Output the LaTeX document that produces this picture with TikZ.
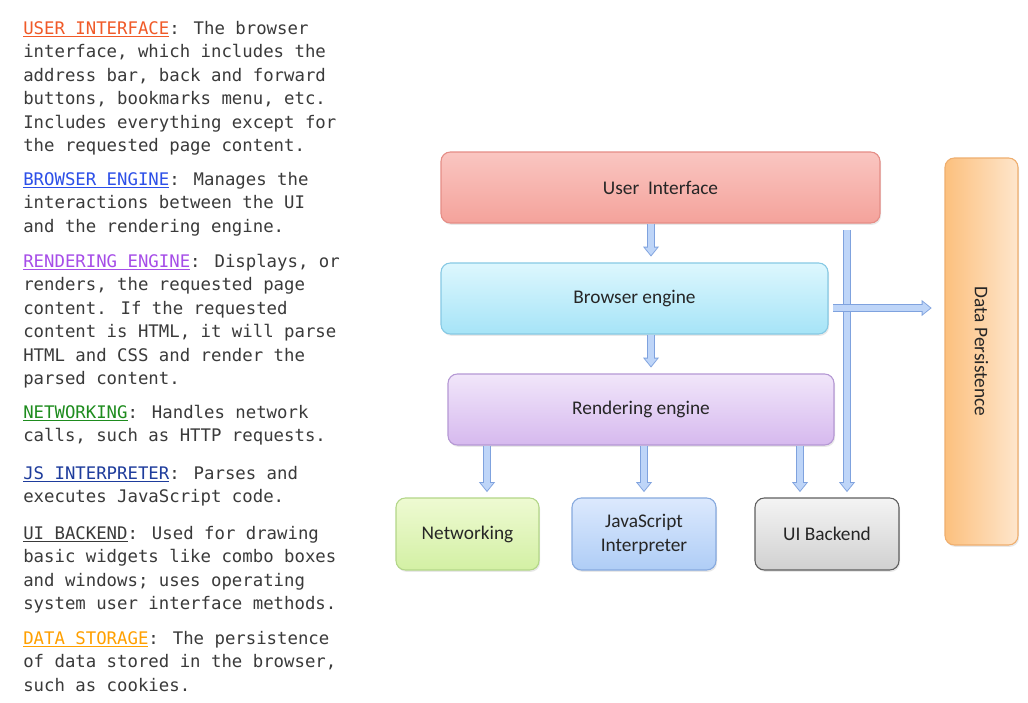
\documentclass[tikz,border=0pt]{standalone}
\usepackage{fontspec}
\usepackage{graphicx}
\newfontfamily\monofont{DejaVu Sans Mono}
\newfontfamily\boxfont{Carlito}
\usetikzlibrary{arrows.meta,shadows}
\definecolor{textgray}{HTML}{3A3A3A}
\definecolor{boxtext}{HTML}{262626}
\definecolor{uiC}{HTML}{F05A28}
\definecolor{beC}{HTML}{2C4FE8}
\definecolor{reC}{HTML}{A64DE8}
\definecolor{netC}{HTML}{1E8C1E}
\definecolor{jsC}{HTML}{1E3C9C}
\definecolor{dsC}{HTML}{FFA000}
\definecolor{uiT}{HTML}{FAC6C1}\definecolor{uiB}{HTML}{F4A29B}\definecolor{uiD}{HTML}{E58D86}
\definecolor{beT}{HTML}{DDF7FE}\definecolor{beB}{HTML}{A6E4F7}\definecolor{beD}{HTML}{86C9E4}
\definecolor{reT}{HTML}{F1E6FA}\definecolor{reB}{HTML}{D6B9EE}\definecolor{reD}{HTML}{B598D4}
\definecolor{nwT}{HTML}{EEFAD2}\definecolor{nwB}{HTML}{D3F0A4}\definecolor{nwD}{HTML}{B3D688}
\definecolor{jsT}{HTML}{DCE9FD}\definecolor{jsB}{HTML}{AFCDF6}\definecolor{jsD}{HTML}{86A9DE}
\definecolor{ubT}{HTML}{F4F4F4}\definecolor{ubB}{HTML}{D0D0D0}\definecolor{ubD}{HTML}{5E5E5E}
\definecolor{dpT}{HTML}{FCC07E}\definecolor{dpB}{HTML}{FEE6CC}\definecolor{dpD}{HTML}{EFAE6E}
\definecolor{arrowfill}{HTML}{BED5F8}
\definecolor{arrowborder}{HTML}{7FA2DE}
\newcommand{\hd}[2]{\textcolor{#1}{\underline{#2}}}
\begin{document}
\begin{tikzpicture}[x=0.75pt,y=-0.75pt,
  para/.style={anchor=base west, inner sep=0pt, text=textgray,
    font=\monofont\fontsize{13}{17.55}\selectfont},
  blk/.style={draw=#1D, top color=#1T, bottom color=#1B, rounded corners=7pt,
    line width=0.8pt, minimum height=54pt, inner sep=2pt, align=center,
    text=boxtext, font=\boxfont\fontsize{14.5}{18}\selectfont,
    drop shadow={opacity=0.18, shadow xshift=0.8pt, shadow yshift=-1.4pt}},
  barrow/.style={preaction={draw=arrowborder, line width=6pt,
      -{Triangle[length=7.5pt,width=11.5pt]}, shorten >=0pt},
    draw=arrowfill, line width=4.2pt, -{Triangle[length=5.6pt,width=8.6pt]},
    shorten >=1.1pt}
]
\useasboundingbox (0,0) rectangle (1028,703);
\fill[white] (0,0) rectangle (1028,703);

% left-hand description
\node[para] (p1) at (23,34.5) {\begin{minipage}[t]{260pt}\raggedright
\hd{uiC}{USER INTERFACE}: The browser\\
interface, which includes the\\
address bar, back and forward\\
buttons, bookmarks menu, etc.\\
Includes everything except for\\
the requested page content.\end{minipage}};
\node[para] (p2) at (23,185.5) {\begin{minipage}[t]{260pt}\raggedright
\hd{beC}{BROWSER ENGINE}: Manages the\\
interactions between the UI\\
and the rendering engine.\end{minipage}};
\node[para] (p3) at (23,267.5) {\begin{minipage}[t]{260pt}\raggedright
\hd{reC}{RENDERING ENGINE}: Displays, or\\
renders, the requested page\\
content. If the requested\\
content is HTML, it will parse\\
HTML and CSS and render the\\
parsed content.\end{minipage}};
\node[para] (p4) at (23,418.5) {\begin{minipage}[t]{260pt}\raggedright
\hd{netC}{NETWORKING}: Handles network\\
calls, such as HTTP requests.\end{minipage}};
\node[para] (p5) at (23,479) {\begin{minipage}[t]{260pt}\raggedright
\hd{jsC}{JS INTERPRETER}: Parses and\\
executes JavaScript code.\end{minipage}};
\node[para] (p6) at (23,539.5) {\begin{minipage}[t]{260pt}\raggedright
\hd{textgray}{UI BACKEND}: Used for drawing\\
basic widgets like combo boxes\\
and windows; uses operating\\
system user interface methods.\end{minipage}};
\node[para] (p7) at (23,644.5) {\begin{minipage}[t]{260pt}\raggedright
\hd{dsC}{DATA STORAGE}: The persistence\\
of data stored in the browser,\\
such as cookies.\end{minipage}};

% boxes
\node[blk=ui, minimum width=329.25pt, minimum height=53.25pt] (UI) at (660.5,187.5) {User\ \ Interface};
\node[blk=be, minimum width=290.25pt, minimum height=53.25pt] (BE) at (634.5,298.5) {Browser engine};
\node[blk=re, minimum width=289.5pt, minimum height=53.25pt] (RE) at (641,409.5) {Rendering engine};
\node[blk=nw, minimum width=107.25pt] (NW) at (467.5,534) {Networking};
\node[blk=js, minimum width=108pt] (JS) at (644,534) {JavaScript\\Interpreter};
\node[blk=ub, minimum width=108pt] (UB) at (827,534) {UI Backend};
\node[blk=dp, left color=dpT, right color=dpB, minimum width=54.75pt, minimum height=290.25pt]
  (DP) at (981.5,351.5) {\rotatebox{-90}{Data Persistence}};

% x positions of connectors
\coordinate (xa) at (651,0);
\coordinate (xn) at (487,0);
\coordinate (xj) at (644,0);
\coordinate (xu) at (800,0);
\coordinate (xl) at (847,0);
\coordinate (yh) at (0,308);

% connectors
\draw[barrow] ([yshift=-0.4pt]UI.south -| xa) -- ([yshift=4.4pt]BE.north -| xa);
\draw[barrow] ([yshift=-0.4pt]BE.south -| xa) -- ([yshift=4.4pt]RE.north -| xa);
\draw[barrow] ([yshift=-0.4pt]RE.south -| xn) -- ([yshift=4pt]NW.north -| xn);
\draw[barrow] ([yshift=-0.4pt]RE.south -| xj) -- ([yshift=4pt]JS.north -| xj);
\draw[barrow] ([yshift=-0.4pt]RE.south -| xu) -- ([yshift=4pt]UB.north -| xu);
\draw[barrow] ([yshift=-5.2pt]UI.south -| xl) -- ([yshift=4pt]UB.north -| xl);
\draw[barrow] ([xshift=3.4pt]BE.east |- yh) -- ([xshift=-9.6pt]DP.west |- yh);
\end{tikzpicture}
\end{document}
